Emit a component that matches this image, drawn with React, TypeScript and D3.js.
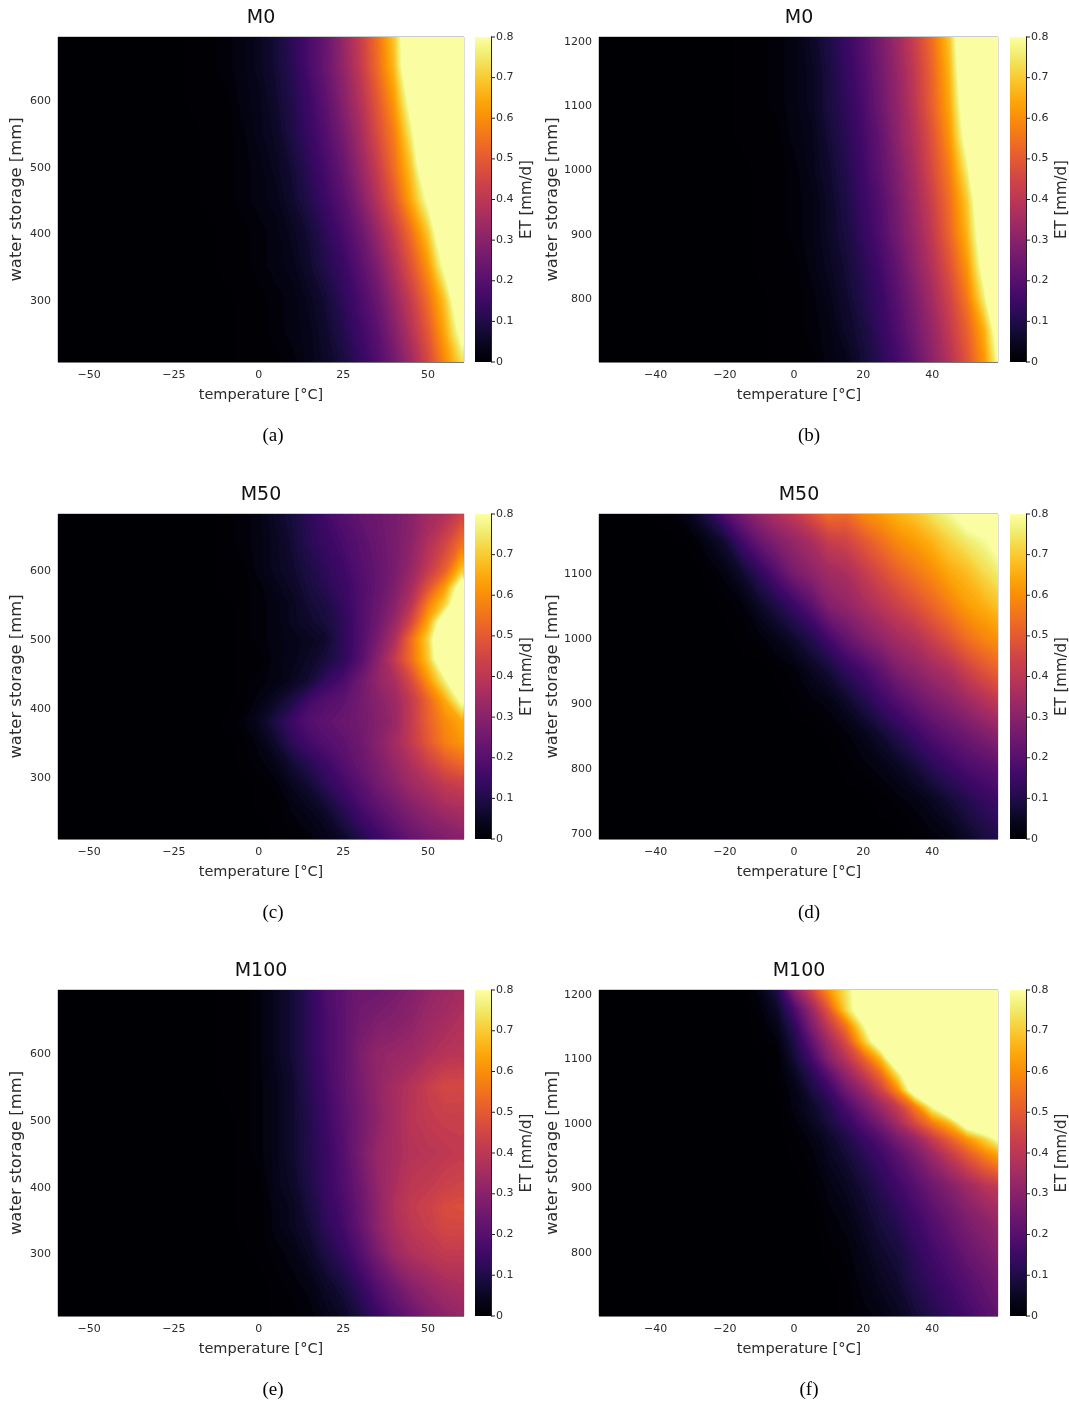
import React from "react";
import * as d3 from "d3";

const temperatures = [-60,-55,-50,-45,-40,-35,-30,-25,-20,-15,-10,-5,0,5,10,15,20,25,30,35,40,45,50,55,60];
const cold = [0,0,0,0,0,0,0,0];
const far = [0,0,0,0];

const storageA = [694,650,600,550,500,450,400,350,300,250,207];
const etA = [
  [...cold,1,1,2,3,5,8,13,18,24,33,43,55,70,95,100,100,100],
  [...cold,1,1,2,3,5,8,12,18,24,32,42,54,68,95,100,100,100],
  [...cold,1,1,1,3,4,7,11,16,22,30,39,50,63,85,100,100,100],
  [...cold,0,1,1,2,4,6,10,15,20,27,36,47,58,77,100,100,100],
  [...cold,0,1,1,2,3,5,8,13,18,24,33,43,55,70,95,100,100],
  [...cold,0,1,1,2,3,4,7,11,16,21,29,39,50,65,82,100,100],
  [...cold,0,0,1,1,2,3,5,8,13,18,24,33,43,55,70,95,100],
  [...cold,0,0,1,1,2,3,4,7,11,15,21,28,38,49,62,83,100],
  [...cold,0,0,0,1,1,2,3,5,8,13,18,24,33,43,55,70,95],
  [...cold,0,0,0,1,1,2,3,4,7,11,16,21,29,39,50,65,84],
  [...cold,0,0,0,1,1,1,2,4,6,9,14,19,26,35,46,60,74],
];

const storageB = [1206,1150,1100,1050,1000,950,900,850,800,750,700];
const etB = [
  [...cold,0,1,1,2,3,6,10,15,20,27,35,44,55,70,100,100,100],
  [...cold,0,1,1,2,3,5,9,14,19,26,33,42,53,67,95,100,100],
  [...cold,0,1,1,2,3,5,9,13,18,25,32,41,52,65,90,100,100],
  [...cold,0,1,1,1,3,4,8,12,17,23,31,39,49,62,85,100,100],
  [...cold,0,0,1,1,2,4,7,11,16,22,29,37,47,58,77,110,110],
  [...cold,0,0,1,1,2,3,6,10,15,20,27,35,44,55,70,95,100],
  [...cold,0,0,1,1,2,3,6,9,14,19,26,33,42,53,67,90,100],
  [...cold,0,0,1,1,1,3,5,8,12,17,23,31,39,49,62,85,100],
  [...cold,0,0,0,1,1,2,4,7,11,15,21,28,36,45,57,77,110],
  [...cold,0,0,0,1,1,2,3,6,9,14,19,26,33,42,52,66,92],
  [...cold,0,0,0,1,1,1,3,4,8,12,17,23,31,39,49,62,85],
];

const storageC = [681,640,600,575,550,525,500,470,440,410,380,350,320,290,260,230,210];
const etC = [
  [...cold,0,0,1,2,3,6,9,13,17,20,23,25,27,30,35,38,45],
  [...cold,0,0,1,2,3,5,8,12,15,18,21,24,27,31,38,45,55],
  [...cold,0,0,1,1,3,5,7,10,13,16,20,23,27,33,42,52,70],
  [...cold,0,0,1,1,2,4,6,9,12,15,19,23,28,36,49,63,88],
  [...cold,0,0,0,1,2,3,5,8,10,14,19,24,30,40,58,72,95],
  [...cold,0,0,0,1,2,3,5,7,9,13,19,25,33,46,65,90,100],
  [...cold,0,0,0,1,2,3,4,5,7,13,19,27,37,55,72,100,100],
  [...cold,0,0,0,1,1,3,4,6,9,13,20,30,42,55,70,95,100],
  [...cold,0,0,0,1,2,3,5,8,14,18,25,32,37,47,62,78,110],
  [...cold,0,0,0,1,3,6,10,17,20,22,26,30,34,42,53,65,82],
  [...cold,0,0,1,2,5,10,16,20,22,24,26,29,33,42,52,60,65],
  [...cold,0,0,0,1,3,7,13,17,20,22,25,30,35,42,50,58,62],
  [...cold,0,0,0,1,2,4,8,12,16,20,24,28,33,38,44,50,54],
  [...cold,0,0,0,0,1,2,5,8,13,17,21,26,30,35,38,42,44],
  [...cold,0,0,0,0,1,1,3,5,8,13,18,22,26,30,33,37,38],
  [...cold,0,0,0,0,0,1,2,3,5,9,14,18,22,26,29,31,33],
  [...cold,0,0,0,0,0,1,1,2,4,6,10,15,19,23,26,28,30],
];

const storageD = [1192,1150,1100,1050,1000,950,900,850,800,750,692];
const etD = [
  [...far,1,2,5,11,20,27,33,38,42,48,55,54,60,63,67,70,75,79,85,90,95],
  [...far,0,0,1,4,8,17,24,29,33,37,43,45,50,55,60,63,67,72,76,79,85],
  [...far,0,0,0,1,3,7,13,20,27,31,35,37,42,47,52,56,60,65,68,73,77],
  [...far,0,0,0,0,1,2,6,10,15,21,29,32,36,40,44,48,53,58,63,66,70],
  [...far,0,0,0,0,0,1,2,4,7,11,17,23,28,32,36,39,44,49,55,59,62],
  [...far,0,0,0,0,0,0,0,1,2,5,8,13,17,22,28,31,35,38,44,49,53],
  [...far,0,0,0,0,0,0,0,0,1,2,3,6,10,15,19,23,27,30,34,38,42],
  [...far,0,0,0,0,0,0,0,0,0,0,1,2,4,7,11,15,19,22,25,28,31],
  [...far,0,0,0,0,0,0,0,0,0,0,0,1,2,3,5,8,12,15,18,20,22],
  [...far,0,0,0,0,0,0,0,0,0,0,0,0,0,1,2,3,5,8,11,14,16],
  [...far,0,0,0,0,0,0,0,0,0,0,0,0,0,0,0,1,2,3,6,9,11],
];

const storageE = [694,650,600,550,500,450,400,370,340,300,250,207];
const etE = [
  [...cold,0,0,1,1,2,5,8,13,19,22,25,25,27,29,32,34,36],
  [...cold,0,0,1,1,2,5,8,13,18,22,26,28,29,31,34,36,38],
  [...cold,0,0,1,1,2,5,8,13,18,22,28,32,33,34,37,39,40],
  [...cold,0,0,1,1,2,4,7,12,17,22,27,32,36,39,43,46,46],
  [...cold,0,0,0,1,2,4,7,11,16,21,26,31,36,40,42,43,43],
  [...cold,0,0,0,1,2,4,7,11,15,20,27,33,36,39,40,41,42],
  [...cold,0,0,0,1,1,4,6,10,15,19,25,32,37,41,42,44,45],
  [...cold,0,0,0,1,1,3,5,9,14,18,24,31,38,42,44,47,48],
  [...cold,0,0,0,1,1,3,5,8,13,17,23,31,37,41,43,46,46],
  [...cold,0,0,0,0,1,2,3,6,10,14,20,27,34,38,40,42,42],
  [...cold,0,0,0,0,0,1,2,3,6,9,14,20,25,30,33,36,37],
  [...cold,0,0,0,0,0,1,1,2,4,6,10,15,20,24,28,31,33],
];

const storageF = [1206,1175,1150,1125,1100,1075,1050,1025,1000,975,950,900,850,800,750,700];
const etF = [
  [...cold,0,1,3,10,30,45,62,75,88,100,100,100,100,100,100,100,100],
  [...cold,0,0,2,6,18,33,50,72,90,100,100,100,100,100,100,100,100],
  [...cold,0,0,1,4,13,28,42,56,78,100,100,100,100,100,100,100,100],
  [...cold,0,0,1,2,10,22,35,47,68,90,100,100,100,100,100,100,100],
  [...cold,0,0,0,1,8,17,30,40,52,68,100,100,100,100,100,100,100],
  [...cold,0,0,0,1,5,12,21,32,42,54,75,95,100,100,100,100,100],
  [...cold,0,0,0,1,3,9,15,25,33,44,60,90,100,100,100,100,100],
  [...cold,0,0,0,0,3,6,11,18,26,34,43,58,80,100,100,100,100],
  [...cold,0,0,0,0,2,5,9,14,20,27,36,47,58,68,90,100,100],
  [...cold,0,0,0,0,1,3,6,10,15,20,27,33,43,52,62,72,85],
  [...cold,0,0,0,0,1,2,5,8,12,16,21,27,34,42,50,58,66],
  [...cold,0,0,0,0,0,1,3,5,8,12,16,20,25,29,34,39,42],
  [...cold,0,0,0,0,0,0,2,3,6,9,12,16,20,24,28,31,34],
  [...cold,0,0,0,0,0,0,1,2,4,7,9,13,17,20,24,27,30],
  [...cold,0,0,0,0,0,0,0,1,3,5,7,11,14,17,20,23,26],
  [...cold,0,0,0,0,0,0,0,1,2,3,5,8,11,14,17,20,23],
];

const titles = ["M0", "M0", "M50", "M50", "M100", "M100"];
const captions = ["(a)", "(b)", "(c)", "(d)", "(e)", "(f)"];
const storages = [storageA, storageB, storageC, storageD, storageE, storageF];
const grids = [etA, etB, etC, etD, etE, etF];
const tempDomains = [[-59.2, 60.6], [-56.4, 59], [-59.2, 60.6], [-56.4, 59], [-59.2, 60.6], [-56.4, 59]];
const storageDomains = [[207, 694.5], [700, 1206], [210, 681], [691, 1191], [206, 694.5], [700, 1206]];
const tempTicksLeft = [-50, -25, 0, 25, 50];
const tempTicksRight = [-40, -20, 0, 20, 40];
const storageTicks = [
  [300, 400, 500, 600],
  [800, 900, 1000, 1100, 1200],
  [300, 400, 500, 600],
  [700, 800, 900, 1000, 1100],
  [300, 400, 500, 600],
  [800, 900, 1000, 1100, 1200],
];
const colorTicks = [0, 0.1, 0.2, 0.3, 0.4, 0.5, 0.6, 0.7, 0.8];
const levels = d3.range(0.5, 80, 1);

const rowTops = [37, 514, 990];
const rowBottoms = [362, 839, 1316];
const columns = [
  { x0: 58, x1: 464, barX: 475, yLabelX: 16, etLabelX: 526, titleX: 261, captionX: 273 },
  { x0: 599, x1: 998, barX: 1010, yLabelX: 551.5, etLabelX: 1061, titleX: 799, captionX: 809 },
];
const FONT = "'DejaVu Sans', sans-serif";
const INK = "#2b2b2b";
const color = d3.scaleSequential(d3.interpolateInferno).domain([0, 80]);
const gradientStops = d3.range(0, 1.0001, 0.05);

function Panel({ index }: { index: number }) {
  const col = columns[index % 2];
  const row = Math.floor(index / 2);
  const top = rowTops[row];
  const bottom = rowBottoms[row];
  const x = d3.scaleLinear().domain(tempDomains[index]).range([col.x0, col.x1]);
  const y = d3.scaleLinear().domain(storageDomains[index]).range([bottom, top]);
  const bar = d3.scaleLinear().domain([0, 0.8]).range([bottom, top]);
  const stor = storages[index];
  const grid = grids[index];
  // grid coordinates of d3.contours -> data coordinates (value i sits at i + 0.5)
  const gridToTemp = d3.scaleLinear().domain(temperatures.map((_, i) => i + 0.5)).range(temperatures);
  const gridToStor = d3.scaleLinear().domain(stor.map((_, i) => i + 0.5)).range(stor);
  const contours = d3
    .contours()
    .size([temperatures.length, stor.length])
    .thresholds(levels)(grid.flat());
  const path = d3.geoPath(
    d3.geoTransform({
      point(px: number, py: number) {
        (this as any).stream.point(x(gridToTemp(px)), y(gridToStor(py)));
      },
    })
  );
  const xTicks = index % 2 === 0 ? tempTicksLeft : tempTicksRight;
  const fmt = (v: number) => String(v).replace("-", "\u2212");
  const midY = (top + bottom) / 2;
  return (
    <g fontFamily={FONT} fill={INK} filter="url(#soft)">
      <clipPath id={`clip${index}`}>
        <rect x={col.x0} y={top} width={col.x1 - col.x0} height={bottom - top} />
      </clipPath>
      <rect x={col.x0} y={top} width={col.x1 - col.x0} height={bottom - top} fill={color(0)} />
      <g clipPath={`url(#clip${index})`}>
        {contours.map((c) => (
          <path key={c.value} d={path(c as any) ?? ""} fill={color(c.value)} />
        ))}
      </g>
      <line x1={col.x0} x2={col.x1} y1={bottom + 0.5} y2={bottom + 0.5} stroke="#777" strokeWidth={1} />
      <line x1={col.x0} x2={col.x1} y1={top - 0.5} y2={top - 0.5} stroke="#ccc" strokeWidth={1} />
      <line x1={col.x0 - 0.5} x2={col.x0 - 0.5} y1={top} y2={bottom} stroke="#ccc" strokeWidth={1} />
      <line x1={col.x1 + 0.5} x2={col.x1 + 0.5} y1={top} y2={bottom} stroke="#ddd" strokeWidth={1} />
      <text x={col.titleX} y={top - 14} textAnchor="middle" fontSize={19} fill="#111">{titles[index]}</text>
      {xTicks.map((t) => (
        <text key={t} x={x(t)} y={bottom + 16} textAnchor="middle" fontSize={11}>{fmt(t)}</text>
      ))}
      {storageTicks[index].map((t) => (
        <text key={t} x={col.x0 - 7} y={y(t) + 4} textAnchor="end" fontSize={11}>{fmt(t)}</text>
      ))}
      <text x={col.titleX} y={bottom + 37} textAnchor="middle" fontSize={14.5}>temperature [°C]</text>
      <text
        transform={`translate(${col.yLabelX + 5},${midY}) rotate(-90)`}
        textAnchor="middle"
        fontSize={16.4}
      >water storage [mm]</text>
      <text
        transform={`translate(${col.etLabelX + 5},${midY}) rotate(-90)`}
        textAnchor="middle"
        fontSize={15}
      >ET [mm/d]</text>
      <rect x={col.barX} y={top} width={16} height={bottom - top} fill="url(#inferno)" />
      <line x1={col.barX + 16.5} x2={col.barX + 16.5} y1={top - 0.5} y2={bottom + 0.5} stroke="#222" strokeWidth={1} />
      {colorTicks.map((t) => (
        <g key={t}>
          <line x1={col.barX + 16} x2={col.barX + 20} y1={bar(t)} y2={bar(t)} stroke="#222" strokeWidth={1} />
          <text x={col.barX + 21} y={bar(t) + 2.5} fontSize={11}>{String(t)}</text>
        </g>
      ))}
      <text
        x={col.captionX}
        y={bottom + 79}
        textAnchor="middle"
        fontSize={19}
        fontFamily="'Liberation Serif', serif"
        fill="#000"
      >{captions[index]}</text>
    </g>
  );
}

export default function App() {
  return (
    <svg
      width={1069}
      height={1404}
      viewBox="0 0 1069 1404"
      style={{ position: "absolute", left: 0, top: 0, background: "#fff" }}
    >
      <defs>
        <linearGradient id="inferno" x1="0" y1="1" x2="0" y2="0">
          {gradientStops.map((s) => (
            <stop key={s} offset={s} stopColor={d3.interpolateInferno(s)} />
          ))}
        </linearGradient>
        <filter
          id="soft"
          filterUnits="userSpaceOnUse"
          x={0}
          y={0}
          width={1069}
          height={1404}
          colorInterpolationFilters="sRGB"
        >
          <feGaussianBlur stdDeviation={0.4} />
        </filter>
      </defs>
      {titles.map((_, i) => (
        <Panel key={i} index={i} />
      ))}
    </svg>
  );
}
